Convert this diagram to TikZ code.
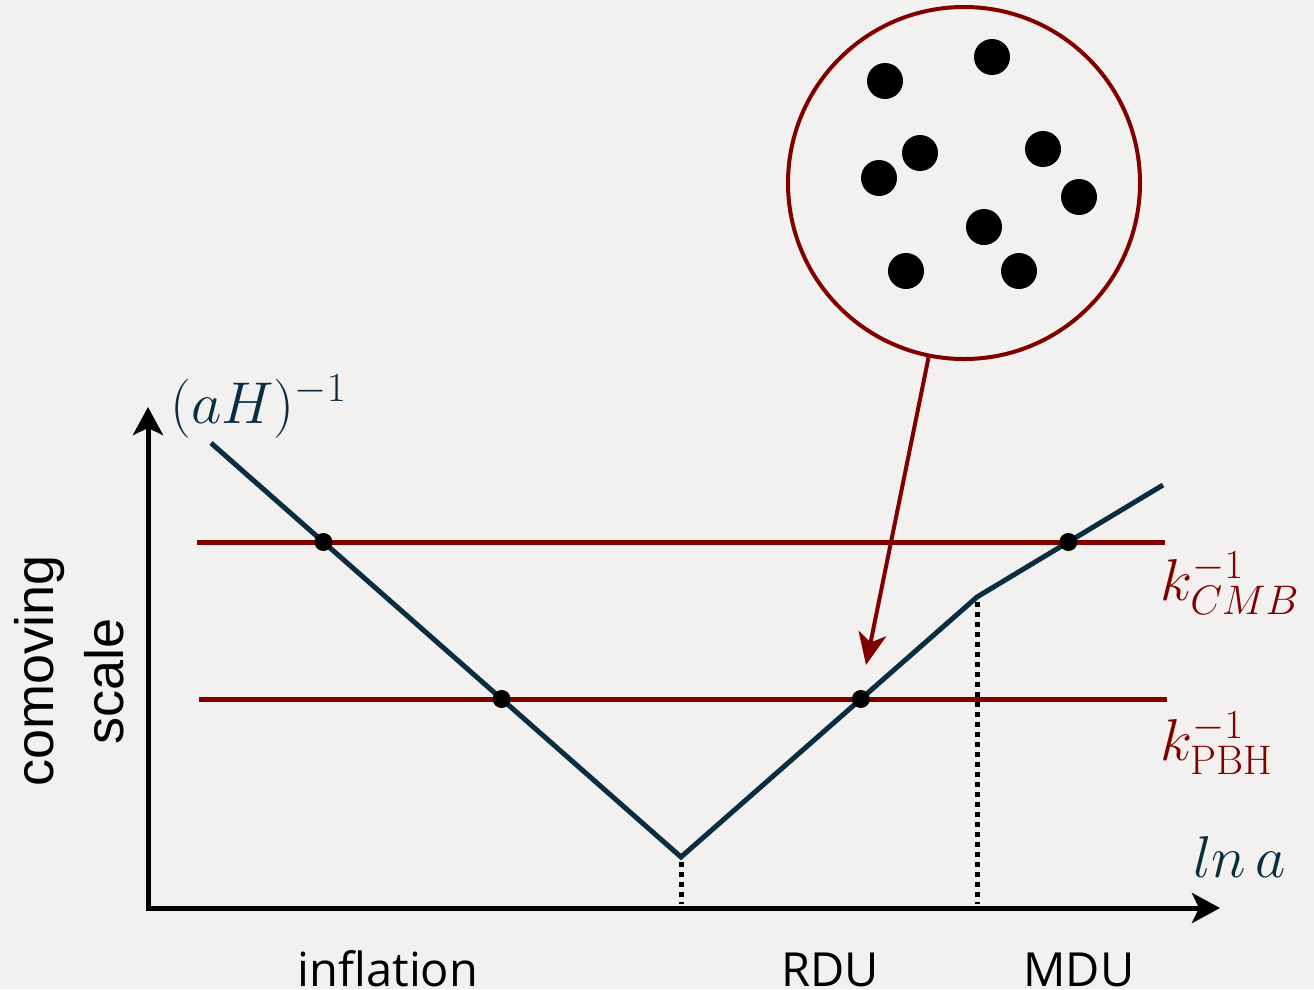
\RequirePackage{fix-cm}
\documentclass[tikz,border=0pt]{standalone}
\usepackage{fontspec}
\newfontfamily\axisfont{Liberation Sans}
\newfontfamily\phasefont{Open Sans}
\usetikzlibrary{arrows.meta,intersections}
\definecolor{paper}{RGB}{242,241,239}
\definecolor{horizon}{RGB}{10,45,66}
\definecolor{scalered}{RGB}{128,0,0}

\begin{document}
\begin{tikzpicture}[
    x=1pt, y=-1pt,
    axis/.style={draw=black, line width=5pt, {Stealth[length=28pt,width=30pt,inset=7pt]}-{Stealth[length=28pt,width=30pt,inset=7pt]}},
    hubble/.style={draw=horizon, line width=5pt, line join=miter},
    mode/.style={draw=scalered, line width=5pt},
    cross/.style={circle, fill=black, inner sep=0pt, minimum size=18pt},
    grain/.style={circle, fill=black, inner sep=0pt, minimum size=36pt},
    epoch/.style={draw=black, line width=5pt, dash pattern=on 5pt off 5pt},
    pointer/.style={draw=scalered, line width=4pt, -{Stealth[length=32pt,width=28pt,inset=9pt]}},
    mathlabel/.style={inner sep=0pt, font=\fontsize{59}{62}\selectfont},
    phase/.style={anchor=base, inner sep=0pt, font=\phasefont\fontsize{47}{50}\selectfont},
    vlabel/.style={anchor=base, rotate=90, inner sep=0pt, font=\axisfont\fontsize{54}{60}\selectfont}
]

\fill[paper] (0,0) rectangle (1314,989);
\useasboundingbox (0,0) rectangle (1314,989);

\coordinate (origin) at (148,908);
\coordinate (ytip) at (148,407);
\coordinate (xtip) at (1220,908);
\coordinate (start) at (211,443);
\coordinate (vtx) at (681,857);
\coordinate (kink) at (977,597);
\coordinate (stop) at (1163,485);

\draw[axis] (ytip) |- (xtip);

\draw[mode, name path=cmb] (197,542) -- (1165,542);
\draw[mode, name path=pbh] (199,699) -- (1167,699);

\draw[hubble, name path=curve] (start) -- (vtx) -- (kink) -- (stop);

\draw[epoch] ([yshift=-5pt]vtx) -- ([yshift=4pt]vtx |- origin);
\draw[epoch] ([yshift=-5pt]kink) -- ([yshift=4pt]kink |- origin);

\path[name intersections={of=curve and cmb, name=c}];
\path[name intersections={of=curve and pbh, name=p}];
\node[cross] (cmbin) at (c-1) {};
\node[cross] (cmbout) at (c-2) {};
\node[cross] (pbhin) at (p-1) {};
\node[cross] (pbhout) at (p-2) {};

\node[circle, draw=scalered, line width=4pt, inner sep=0pt, minimum size=352pt] (blob) at (964,183) {};
\foreach \gx/\gy [count=\i] in {885/81, 992/57, 920/153, 1043/149, 879/178, 1079/197, 984/227, 906/271, 1019/271}
    \node[grain] (grain\i) at (\gx,\gy) {};

\coordinate (aim) at (866,665);
\draw[pointer] (blob) -- (aim);

\node[mathlabel, anchor=base west, text=horizon] (hlabel) at (170,423) {$(aH)^{-1}$};
\node[mathlabel, anchor=base west, text=scalered] (kcmb) at (1160,600) {$k^{-1}_{CMB}$};
\node[mathlabel, anchor=base west, text=scalered] (kpbh) at (1160,760) {$k^{-1}_{\mathrm{PBH}}$};
\node[mathlabel, anchor=base west, text=horizon] (lna) at (1193,877) {$ln\,a$};

\node[phase] (infl) at (388,986) {inflation};
\node[phase] (rdu) at (830,986) {RDU};
\node[phase] (mdu) at (1079,986) {MDU};

\node[vlabel] (como) at (53,671) {comoving};
\node[vlabel] (scl) at (123,681) {scale};

\end{tikzpicture}
\end{document}
